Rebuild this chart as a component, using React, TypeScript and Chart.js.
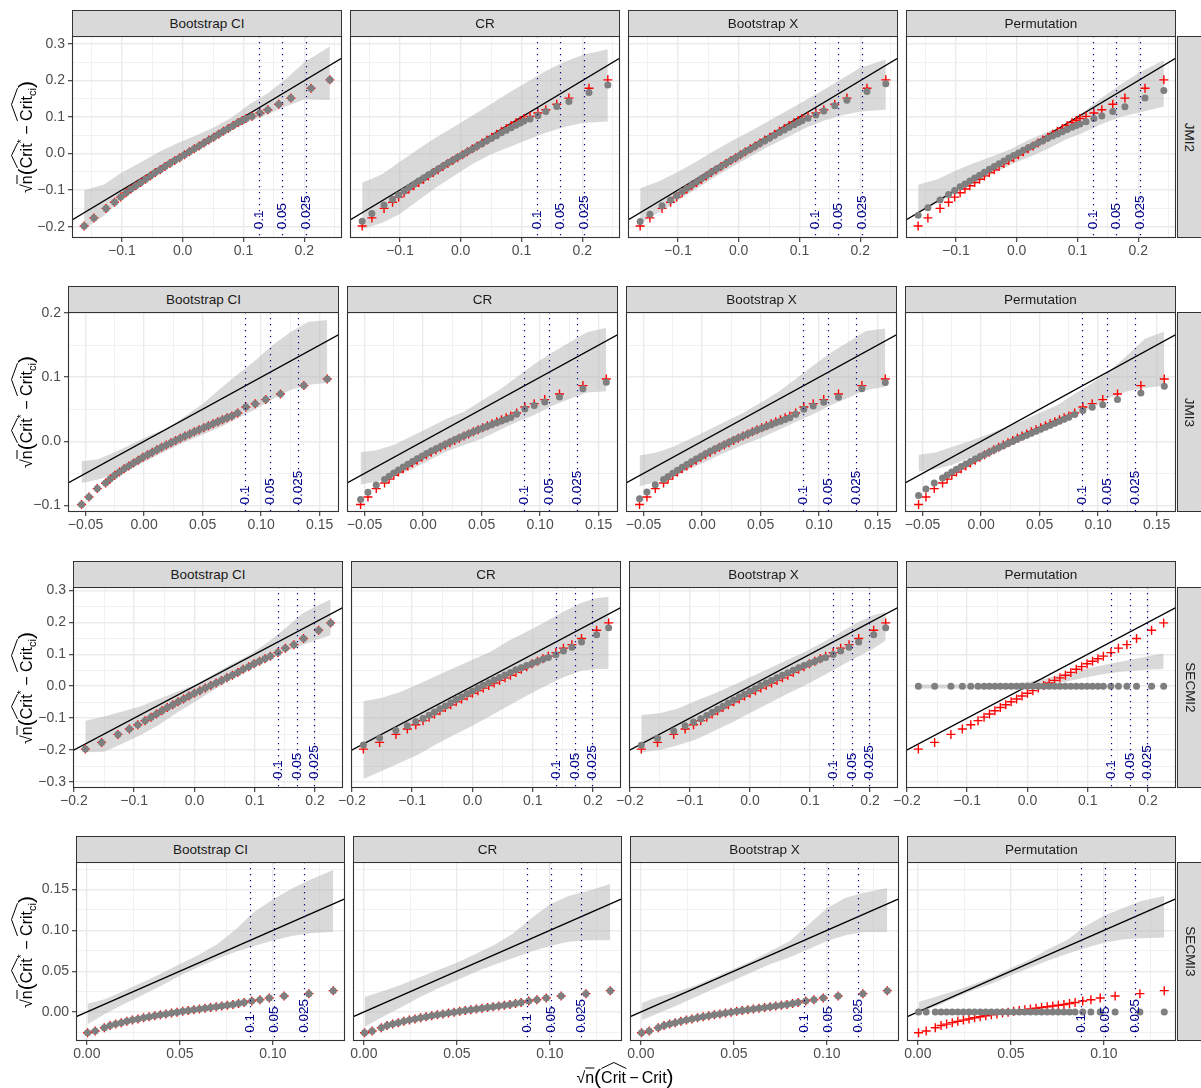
import React, { useEffect, useRef } from "react";
import { Chart, registerables } from "chart.js";

Chart.register(...registerables);

const FONT = "'Liberation Sans', Arial, Helvetica, sans-serif";
Chart.defaults.font.family = FONT;

// ---------------- labels ----------------
const methodNames = ["Bootstrap CI", "CR", "Bootstrap X", "Permutation"];
const rowNames = ["JMI2", "JMI3", "SECMI2", "SECMI3"];
const qLabels = ["0.1", "0.05", "0.025"];
const identityLine = [-1, 1];

// ---------------- JMI2 ----------------
const xJMI2 = [-0.162, -0.146, -0.126, -0.112, -0.102, -0.093, -0.085, -0.077, -0.069, -0.061, -0.053, -0.045, -0.037, -0.029, -0.021, -0.013, -0.005, 0.003, 0.011, 0.019, 0.027, 0.035, 0.043, 0.051, 0.059, 0.067, 0.075, 0.083, 0.091, 0.098, 0.104, 0.114, 0.127, 0.14, 0.158, 0.178, 0.211, 0.242];
const redJMI2 = [-0.198, -0.176, -0.15, -0.133, -0.119, -0.107, -0.097, -0.088, -0.079, -0.07, -0.061, -0.052, -0.044, -0.035, -0.027, -0.019, -0.011, -0.003, 0.005, 0.013, 0.021, 0.029, 0.037, 0.045, 0.053, 0.061, 0.069, 0.077, 0.085, 0.091, 0.096, 0.102, 0.111, 0.12, 0.135, 0.152, 0.179, 0.202];
const grayJMI2CR = [-0.185, -0.164, -0.141, -0.125, -0.113, -0.102, -0.093, -0.084, -0.075, -0.067, -0.058, -0.05, -0.042, -0.034, -0.026, -0.018, -0.01, -0.003, 0.005, 0.012, 0.02, 0.027, 0.035, 0.042, 0.049, 0.057, 0.064, 0.071, 0.078, 0.084, 0.089, 0.095, 0.104, 0.115, 0.129, 0.143, 0.167, 0.188];
const grayJMI2BX = [-0.186, -0.166, -0.143, -0.127, -0.115, -0.104, -0.095, -0.086, -0.077, -0.068, -0.06, -0.051, -0.043, -0.035, -0.027, -0.019, -0.011, -0.003, 0.005, 0.012, 0.02, 0.028, 0.035, 0.043, 0.05, 0.058, 0.065, 0.072, 0.079, 0.085, 0.09, 0.097, 0.106, 0.117, 0.131, 0.146, 0.17, 0.191];
const grayJMI2Perm = [-0.169, -0.148, -0.127, -0.112, -0.101, -0.091, -0.083, -0.075, -0.067, -0.059, -0.051, -0.043, -0.035, -0.028, -0.02, -0.012, -0.005, 0.002, 0.009, 0.016, 0.022, 0.029, 0.035, 0.042, 0.048, 0.054, 0.06, 0.066, 0.072, 0.077, 0.081, 0.087, 0.096, 0.103, 0.115, 0.128, 0.152, 0.173];
const bandXJMI2 = [-0.162, -0.13, -0.1, -0.07, -0.04, -0.01, 0.02, 0.05, 0.08, 0.11, 0.14, 0.17, 0.2, 0.242];
const bandLoJMI2CI = [-0.207, -0.17, -0.125, -0.09, -0.055, -0.022, 0.008, 0.035, 0.063, 0.088, 0.108, 0.13, 0.148, 0.147];
const bandHiJMI2CI = [-0.1, -0.085, -0.052, -0.025, 0.004, 0.028, 0.048, 0.071, 0.098, 0.135, 0.165, 0.205, 0.25, 0.293];
const bandLoJMI2CR = [-0.207, -0.19, -0.165, -0.128, -0.092, -0.06, -0.028, -0.002, 0.018, 0.038, 0.057, 0.073, 0.084, 0.088];
const bandHiJMI2CR = [-0.08, -0.057, -0.022, 0.012, 0.045, 0.074, 0.105, 0.136, 0.167, 0.197, 0.226, 0.251, 0.27, 0.286];
const bandLoJMI2BX = [-0.19, -0.16, -0.128, -0.097, -0.065, -0.035, -0.007, 0.02, 0.045, 0.07, 0.09, 0.105, 0.115, 0.12];
const bandHiJMI2BX = [-0.095, -0.075, -0.05, -0.022, 0.008, 0.036, 0.062, 0.09, 0.118, 0.146, 0.175, 0.205, 0.235, 0.258];
const bandLoJMI2Perm = [-0.162, -0.135, -0.108, -0.082, -0.056, -0.03, -0.01, 0.012, 0.038, 0.058, 0.081, 0.1, 0.112, 0.129];
const bandHiJMI2Perm = [-0.085, -0.07, -0.046, -0.026, -0.007, 0.012, 0.038, 0.059, 0.079, 0.114, 0.153, 0.188, 0.22, 0.256];
const qJMI2 = [0.125, 0.164, 0.202];

// ---------------- JMI3 ----------------
const xJMI3 = [-0.0534, -0.0471, -0.04, -0.0329, -0.029, -0.025, -0.021, -0.017, -0.013, -0.009, -0.005, -0.001, 0.003, 0.007, 0.011, 0.015, 0.019, 0.023, 0.027, 0.031, 0.035, 0.039, 0.043, 0.047, 0.051, 0.055, 0.059, 0.063, 0.067, 0.071, 0.075, 0.08, 0.087, 0.095, 0.104, 0.1166, 0.1366, 0.1566];
const redJMI3 = [-0.0987, -0.0868, -0.0738, -0.065, -0.059, -0.053, -0.048, -0.043, -0.0385, -0.034, -0.0295, -0.025, -0.021, -0.017, -0.0132, -0.0095, -0.0058, -0.0022, 0.0013, 0.0048, 0.0082, 0.0115, 0.0148, 0.018, 0.0212, 0.0243, 0.0274, 0.0305, 0.0335, 0.0365, 0.0395, 0.044, 0.0535, 0.0587, 0.065, 0.0738, 0.0868, 0.0971];
const grayJMI3CR = [-0.091, -0.0795, -0.068, -0.0597, -0.0545, -0.0495, -0.0448, -0.0402, -0.0358, -0.0315, -0.0273, -0.0232, -0.0192, -0.0153, -0.0116, -0.008, -0.0045, -0.0011, 0.0022, 0.0055, 0.0087, 0.0118, 0.0148, 0.0178, 0.0207, 0.0235, 0.0263, 0.029, 0.0317, 0.0343, 0.037, 0.0426, 0.0504, 0.0556, 0.0613, 0.069, 0.082, 0.092];
const grayJMI3BX = [-0.0895, -0.079, -0.0678, -0.0598, -0.0548, -0.0499, -0.0452, -0.0406, -0.0362, -0.0319, -0.0277, -0.0236, -0.0196, -0.0157, -0.012, -0.0084, -0.0049, -0.0015, 0.0018, 0.0051, 0.0083, 0.0114, 0.0144, 0.0174, 0.0203, 0.0231, 0.0259, 0.0287, 0.0314, 0.0341, 0.0368, 0.042, 0.0498, 0.0552, 0.061, 0.0688, 0.0818, 0.0915];
const grayJMI3Perm = [-0.0847, -0.0743, -0.065, -0.0571, -0.0525, -0.048, -0.0437, -0.0395, -0.0355, -0.0316, -0.0278, -0.0241, -0.0205, -0.017, -0.0136, -0.0102, -0.0069, -0.0036, -0.0003, 0.003, 0.0062, 0.0094, 0.0126, 0.0157, 0.0188, 0.0219, 0.025, 0.0281, 0.0312, 0.0343, 0.0374, 0.0416, 0.0478, 0.053, 0.0571, 0.065, 0.0753, 0.0857];
const bandXJMI3 = [-0.0534, -0.04, -0.025, -0.01, 0.005, 0.02, 0.035, 0.05, 0.065, 0.08, 0.095, 0.11, 0.125, 0.14, 0.1566];
const bandLoJMI3CI = [-0.065, -0.06, -0.052, -0.041, -0.028, -0.014, -0.001, 0.01, 0.022, 0.036, 0.05, 0.066, 0.08, 0.088, 0.091];
const bandHiJMI3CI = [-0.031, -0.0286, -0.017, -0.004, 0.0095, 0.02, 0.039, 0.058, 0.082, 0.104, 0.126, 0.15, 0.17, 0.186, 0.189];
const bandLoJMI3CR = [-0.0675, -0.063, -0.055, -0.044, -0.03, -0.016, -0.006, 0.004, 0.017, 0.03, 0.041, 0.055, 0.066, 0.076, 0.078];
const bandHiJMI3CR = [-0.017, -0.014, -0.006, 0.008, 0.021, 0.035, 0.046, 0.063, 0.08, 0.1, 0.12, 0.138, 0.154, 0.17, 0.177];
const bandLoJMI3BX = [-0.07, -0.064, -0.055, -0.043, -0.03, -0.017, -0.006, 0.005, 0.017, 0.03, 0.042, 0.056, 0.068, 0.08, 0.085];
const bandHiJMI3BX = [-0.022, -0.018, -0.009, 0.004, 0.017, 0.031, 0.044, 0.06, 0.077, 0.097, 0.118, 0.138, 0.155, 0.172, 0.176];
const bandLoJMI3Perm = [-0.047, -0.044, -0.037, -0.026, -0.014, -0.002, 0.008, 0.018, 0.029, 0.041, 0.053, 0.068, 0.078, 0.083, 0.087];
const bandHiJMI3Perm = [-0.021, -0.018, -0.009, 0.0, 0.01, 0.021, 0.032, 0.044, 0.056, 0.074, 0.091, 0.11, 0.134, 0.16, 0.171];
const qJMI3 = [0.0863, 0.108, 0.1314];

// ---------------- SECMI2 ----------------
const xSECMI2 = [-0.181, -0.154, -0.127, -0.108, -0.094, -0.082, -0.072, -0.063, -0.054, -0.045, -0.036, -0.027, -0.018, -0.009, 0.0, 0.009, 0.018, 0.027, 0.036, 0.045, 0.054, 0.063, 0.072, 0.081, 0.09, 0.099, 0.108, 0.117, 0.126, 0.1385, 0.151, 0.165, 0.181, 0.206, 0.226];
const redSECMI2 = [-0.197, -0.176, -0.151, -0.134, -0.121, -0.108, -0.097, -0.087, -0.077, -0.067, -0.058, -0.049, -0.04, -0.031, -0.022, -0.014, -0.006, 0.002, 0.01, 0.018, 0.026, 0.034, 0.043, 0.053, 0.061, 0.07, 0.078, 0.086, 0.094, 0.105, 0.119, 0.13, 0.149, 0.175, 0.198];
const graySECMI2CR = [-0.184, -0.162, -0.139, -0.124, -0.111, -0.101, -0.091, -0.081, -0.071, -0.062, -0.052, -0.042, -0.033, -0.024, -0.015, -0.006, 0.003, 0.011, 0.019, 0.027, 0.035, 0.043, 0.051, 0.058, 0.065, 0.071, 0.077, 0.084, 0.09, 0.098, 0.11, 0.122, 0.138, 0.161, 0.183];
const graySECMI2BX = [-0.185, -0.163, -0.14, -0.124, -0.112, -0.102, -0.092, -0.082, -0.072, -0.063, -0.053, -0.043, -0.034, -0.025, -0.016, -0.007, 0.002, 0.01, 0.018, 0.026, 0.034, 0.042, 0.05, 0.058, 0.065, 0.071, 0.077, 0.084, 0.09, 0.099, 0.11, 0.122, 0.138, 0.161, 0.183];
const graySECMI2Perm = [0, 0, 0, 0, 0, 0, 0, 0, 0, 0, 0, 0, 0, 0, 0, 0, 0, 0, 0, 0, 0, 0, 0, 0, 0, 0, 0, 0, 0, 0, 0, 0, 0, 0, 0];
const bandXSECMI2 = [-0.181, -0.15, -0.12, -0.09, -0.06, -0.03, 0.0, 0.03, 0.06, 0.09, 0.12, 0.15, 0.18, 0.205, 0.226];
const bandLoSECMI2CI = [-0.207, -0.205, -0.18, -0.154, -0.122, -0.084, -0.05, -0.014, 0.021, 0.051, 0.08, 0.107, 0.129, 0.147, 0.159];
const bandHiSECMI2CI = [-0.108, -0.095, -0.079, -0.064, -0.041, -0.018, 0.004, 0.035, 0.068, 0.096, 0.135, 0.18, 0.228, 0.253, 0.271];
const bandLoSECMI2CR = [-0.291, -0.265, -0.24, -0.214, -0.182, -0.152, -0.124, -0.093, -0.061, -0.03, 0.0, 0.027, 0.048, 0.054, 0.054];
const bandHiSECMI2CR = [-0.047, -0.036, -0.018, 0.006, 0.032, 0.058, 0.083, 0.108, 0.142, 0.17, 0.2, 0.232, 0.26, 0.275, 0.28];
const bandLoSECMI2BX = [-0.207, -0.2, -0.185, -0.167, -0.14, -0.114, -0.084, -0.055, -0.026, 0.001, 0.031, 0.062, 0.093, 0.117, 0.143];
const bandHiSECMI2BX = [-0.09, -0.085, -0.07, -0.046, -0.024, 0.001, 0.028, 0.054, 0.08, 0.106, 0.136, 0.168, 0.2, 0.222, 0.232];
const bandLoSECMI2Perm = [-0.007, -0.007, -0.007, -0.007, -0.006, -0.005, -0.004, 0.002, 0.012, 0.025, 0.036, 0.044, 0.049, 0.052, 0.054];
const bandHiSECMI2Perm = [0.005, 0.005, 0.005, 0.005, 0.006, 0.008, 0.013, 0.024, 0.037, 0.052, 0.064, 0.075, 0.086, 0.095, 0.102];
const qSECMI2 = [0.139, 0.1695, 0.198];

// ---------------- SECMI3 ----------------
const xSECMI3 = [0.0004, 0.0045, 0.0094, 0.0125, 0.0155, 0.0185, 0.0215, 0.0245, 0.0275, 0.0305, 0.0335, 0.0365, 0.0395, 0.0425, 0.0455, 0.0485, 0.0515, 0.0545, 0.0575, 0.0605, 0.0635, 0.0665, 0.0695, 0.0725, 0.0755, 0.0785, 0.0815, 0.0845, 0.0886, 0.093, 0.098, 0.106, 0.1193, 0.1324];
const redSECMI3 = [-0.0254, -0.0233, -0.0192, -0.0165, -0.0148, -0.013, -0.0114, -0.0099, -0.0085, -0.0071, -0.0058, -0.0046, -0.0034, -0.0023, -0.0012, -0.0002, 0.0008, 0.0018, 0.0028, 0.0037, 0.0046, 0.0055, 0.0064, 0.0073, 0.0083, 0.0093, 0.0104, 0.0116, 0.0135, 0.0151, 0.0172, 0.0196, 0.0225, 0.0262];
const graySECMI3Perm = [0, 0, 0, 0, 0, 0, 0, 0, 0, 0, 0, 0, 0, 0, 0, 0, 0, 0, 0, 0, 0, 0, 0, 0, 0, 0, 0, 0, 0, 0, 0, 0, 0, 0];
const bandXSECMI3 = [0.0004, 0.01, 0.02, 0.03, 0.04, 0.05, 0.06, 0.07, 0.08, 0.09, 0.1, 0.11, 0.12, 0.1324];
const bandLoSECMI3CI = [-0.0151, -0.002, 0.0098, 0.021, 0.0323, 0.0443, 0.0552, 0.065, 0.0738, 0.081, 0.0875, 0.093, 0.0965, 0.0982];
const bandHiSECMI3CI = [0.0102, 0.016, 0.0262, 0.0364, 0.0472, 0.0588, 0.07, 0.083, 0.101, 0.123, 0.138, 0.151, 0.162, 0.174];
const bandLoSECMI3CR = [-0.0184, -0.006, 0.006, 0.018, 0.029, 0.039, 0.049, 0.058, 0.066, 0.074, 0.081, 0.086, 0.088, 0.088];
const bandHiSECMI3CR = [0.0184, 0.0255, 0.0335, 0.0425, 0.0515, 0.0605, 0.071, 0.082, 0.096, 0.115, 0.132, 0.142, 0.148, 0.157];
const bandLoSECMI3BX = [-0.0102, -0.001, 0.0085, 0.019, 0.029, 0.039, 0.049, 0.059, 0.067, 0.077, 0.087, 0.094, 0.098, 0.098];
const bandHiSECMI3BX = [0.011, 0.019, 0.025, 0.033, 0.043, 0.053, 0.063, 0.075, 0.087, 0.107, 0.127, 0.14, 0.146, 0.152];
const bandLoSECMI3Perm = [0.0, 0.007, 0.0175, 0.027, 0.035, 0.045, 0.054, 0.063, 0.071, 0.0785, 0.085, 0.089, 0.0905, 0.0912];
const bandHiSECMI3Perm = [0.0123, 0.019, 0.026, 0.034, 0.043, 0.054, 0.064, 0.077, 0.088, 0.105, 0.118, 0.127, 0.136, 0.142];
const qSECMI3 = [0.0875, 0.1008, 0.1168];

// ---------------- axis ticks ----------------
const xMajJMI2 = [-0.1, 0, 0.1, 0.2];
const xLabJMI2 = ["\u22120.1", "0.0", "0.1", "0.2"];
const xMinJMI2 = [-0.15, -0.05, 0.05, 0.15, 0.25];
const yMajJMI2 = [-0.2, -0.1, 0, 0.1, 0.2, 0.3];
const yLabJMI2 = ["\u22120.2", "\u22120.1", "0.0", "0.1", "0.2", "0.3"];
const yMinJMI2 = [-0.15, -0.05, 0.05, 0.15, 0.25];

const xMajJMI3 = [-0.05, 0, 0.05, 0.1, 0.15];
const xLabJMI3 = ["\u22120.05", "0.00", "0.05", "0.10", "0.15"];
const xMinJMI3 = [-0.025, 0.025, 0.075, 0.125];
const yMajJMI3 = [-0.1, 0, 0.1, 0.2];
const yLabJMI3 = ["\u22120.1", "0.0", "0.1", "0.2"];
const yMinJMI3 = [-0.05, 0.05, 0.15];

const xMajSECMI2 = [-0.2, -0.1, 0, 0.1, 0.2];
const xLabSECMI2 = ["\u22120.2", "\u22120.1", "0.0", "0.1", "0.2"];
const xMinSECMI2 = [-0.15, -0.05, 0.05, 0.15];
const yMajSECMI2 = [-0.3, -0.2, -0.1, 0, 0.1, 0.2, 0.3];
const yLabSECMI2 = ["\u22120.3", "\u22120.2", "\u22120.1", "0.0", "0.1", "0.2", "0.3"];
const yMinSECMI2 = [-0.25, -0.15, -0.05, 0.05, 0.15, 0.25];

const xMajSECMI3 = [0, 0.05, 0.1];
const xLabSECMI3 = ["0.00", "0.05", "0.10"];
const xMinSECMI3 = [0.025, 0.075, 0.125];
const yMajSECMI3 = [0, 0.05, 0.1, 0.15];
const yLabSECMI3 = ["0.00", "0.05", "0.10", "0.15"];
const yMinSECMI3 = [-0.025, 0.025, 0.075, 0.125, 0.175];

// ---------------- row specs ----------------
const ROWS: any[] = [
  {
    name: rowNames[0], x: xJMI2, red: redJMI2,
    gray: [redJMI2, grayJMI2CR, grayJMI2BX, grayJMI2Perm],
    bandX: bandXJMI2,
    bandLo: [bandLoJMI2CI, bandLoJMI2CR, bandLoJMI2BX, bandLoJMI2Perm],
    bandHi: [bandHiJMI2CI, bandHiJMI2CR, bandHiJMI2BX, bandHiJMI2Perm],
    xLim: [-0.182, 0.262], yLim: [-0.231, 0.322],
    xMaj: xMajJMI2, xLab: xLabJMI2, xMin: xMinJMI2,
    yMaj: yMajJMI2, yLab: yLabJMI2, yMin: yMinJMI2,
    q: qJMI2, labelY: -0.207,
    top: 36, bottom: 238, left: 72,
  },
  {
    name: rowNames[1], x: xJMI3, red: redJMI3,
    gray: [redJMI3, grayJMI3CR, grayJMI3BX, grayJMI3Perm],
    bandX: bandXJMI3,
    bandLo: [bandLoJMI3CI, bandLoJMI3CR, bandLoJMI3BX, bandLoJMI3Perm],
    bandHi: [bandHiJMI3CI, bandHiJMI3CR, bandHiJMI3BX, bandHiJMI3Perm],
    xLim: [-0.065, 0.1666], yLim: [-0.1103, 0.2016],
    xMaj: xMajJMI3, xLab: xLabJMI3, xMin: xMinJMI3,
    yMaj: yMajJMI3, yLab: yLabJMI3, yMin: yMinJMI3,
    q: qJMI3, labelY: -0.0987,
    top: 312, bottom: 512, left: 68,
  },
  {
    name: rowNames[2], x: xSECMI2, red: redSECMI2,
    gray: [redSECMI2, graySECMI2CR, graySECMI2BX, graySECMI2Perm],
    bandX: bandXSECMI2,
    bandLo: [bandLoSECMI2CI, bandLoSECMI2CR, bandLoSECMI2BX, bandLoSECMI2Perm],
    bandHi: [bandHiSECMI2CI, bandHiSECMI2CR, bandHiSECMI2BX, bandHiSECMI2Perm],
    xLim: [-0.2015, 0.2465], yLim: [-0.3188, 0.3104],
    xMaj: xMajSECMI2, xLab: xLabSECMI2, xMin: xMinSECMI2,
    yMaj: yMajSECMI2, yLab: yLabSECMI2, yMin: yMinSECMI2,
    q: qSECMI2, labelY: -0.291,
    top: 587, bottom: 788, left: 73,
  },
  {
    name: rowNames[3], x: xSECMI3, red: redSECMI3,
    gray: [redSECMI3, redSECMI3, redSECMI3, graySECMI3Perm],
    bandX: bandXSECMI3,
    bandLo: [bandLoSECMI3CI, bandLoSECMI3CR, bandLoSECMI3BX, bandLoSECMI3Perm],
    bandHi: [bandHiSECMI3CI, bandHiSECMI3CR, bandHiSECMI3BX, bandHiSECMI3Perm],
    xLim: [-0.0058, 0.1387], yLim: [-0.0355, 0.1838],
    xMaj: xMajSECMI3, xLab: xLabSECMI3, xMin: xMinSECMI3,
    yMaj: yMajSECMI3, yLab: yLabSECMI3, yMin: yMinSECMI3,
    q: qSECMI3, labelY: -0.0254,
    top: 862, bottom: 1041, left: 76,
  },
];

// ---------------- layout ----------------
const AXIS_W = 70;
const AXIS_H = 26;
const PAD_T = 14;
const PAD_R = 6;
const GAP = 8;
const PLOT_RIGHT = 1176;
const STRIP_H = 27;

const near = (arr: number[], v: number) => arr.findIndex((m) => Math.abs(m - v) < 1e-9);
const pts = (xs: number[], ys: number[]) => xs.map((x, i) => ({ x, y: ys[i] }));

function colBox(row: any, col: number) {
  const w = (PLOT_RIGHT - row.left - 3 * GAP) / 4;
  const l = Math.round(row.left + col * (w + GAP));
  const r = Math.round(row.left + col * (w + GAP) + w);
  return { l, r };
}

const decorPlugin = {
  id: "decor",
  afterDatasetsDraw(chart: any, _args: any, opts: any) {
    const { ctx, chartArea: a, scales } = chart;
    const xs = scales.x;
    const ys = scales.y;
    ctx.save();
    ctx.beginPath();
    ctx.rect(a.left, a.top, a.right - a.left, a.bottom - a.top);
    ctx.clip();
    ctx.strokeStyle = "#00008B";
    ctx.lineWidth = 1.2;
    ctx.setLineDash([1.3, 4.7]);
    opts.lines.forEach((q: number) => {
      const px = Math.round(xs.getPixelForValue(q)) + 0.5;
      ctx.beginPath();
      ctx.moveTo(px, a.top);
      ctx.lineTo(px, a.bottom);
      ctx.stroke();
    });
    ctx.setLineDash([]);
    ctx.fillStyle = "#00008B";
    ctx.font = `13.5px ${FONT}`;
    ctx.textAlign = "left";
    ctx.textBaseline = "middle";
    opts.lines.forEach((q: number, i: number) => {
      const px = Math.round(xs.getPixelForValue(q)) + 0.5;
      const py = ys.getPixelForValue(opts.labelY);
      ctx.save();
      ctx.translate(px, py);
      ctx.rotate(-Math.PI / 2);
      ctx.fillText(opts.labels[i], 0, 0);
      ctx.restore();
    });
    ctx.restore();
    ctx.save();
    ctx.strokeStyle = "#333333";
    ctx.lineWidth = 1.1;
    ctx.strokeRect(a.left + 0.5, a.top + 0.5, a.right - a.left - 1, a.bottom - a.top - 1);
    ctx.restore();
  },
};

function axisCfg(major: number[], minor: number[], labels: string[], lim: number[], isX: boolean, showLabels: boolean) {
  const isMaj = (c: any) => c.tick && near(major, c.tick.value) >= 0;
  return {
    type: "linear",
    position: isX ? "bottom" : "left",
    min: lim[0],
    max: lim[1],
    afterBuildTicks: (s: any) => {
      s.ticks = [...major, ...minor].sort((p, q) => p - q).map((v) => ({ value: v }));
    },
    afterFit: (s: any) => {
      if (isX) {
        s.height = AXIS_H;
        s.paddingLeft = 0;
        s.paddingRight = 0;
      } else {
        s.width = AXIS_W;
        s.paddingTop = 0;
        s.paddingBottom = 0;
      }
    },
    ticks: {
      display: showLabels,
      autoSkip: false,
      maxRotation: 0,
      minRotation: 0,
      padding: isX ? 1 : 3,
      color: "#4D4D4D",
      font: { size: 14, family: FONT },
      callback: (v: number) => {
        const i = near(major, v);
        return i >= 0 ? labels[i] : "";
      },
    },
    grid: {
      drawOnChartArea: true,
      drawTicks: showLabels,
      tickLength: 4,
      tickWidth: 1.1,
      color: "#EBEBEB",
      lineWidth: (c: any) => (isMaj(c) ? 1.4 : 0.7),
      tickColor: (c: any) => (isMaj(c) ? "#333333" : "rgba(0,0,0,0)"),
    },
    border: { display: false },
  };
}

function Panel({ row, col }: { row: any; col: number }) {
  const ref = useRef<HTMLCanvasElement>(null);
  const { l, r } = colBox(row, col);
  const cl = l - AXIS_W;
  const ct = row.top - PAD_T;
  const cw = r - l + AXIS_W + PAD_R;
  const ch = row.bottom - row.top + PAD_T + AXIS_H;

  useEffect(() => {
    const canvas = ref.current;
    if (!canvas) return;
    const datasets: any[] = [
      {
        type: "line",
        data: pts(row.bandX, row.bandLo[col]),
        borderColor: "rgba(0,0,0,0)",
        borderWidth: 0,
        pointRadius: 0,
        fill: false,
        order: 10,
      },
      {
        type: "line",
        data: pts(row.bandX, row.bandHi[col]),
        borderColor: "rgba(0,0,0,0)",
        borderWidth: 0,
        pointRadius: 0,
        fill: 0,
        backgroundColor: "rgba(179,179,179,0.5)",
        order: 9,
      },
      {
        type: "line",
        data: identityLine.map((v) => ({ x: v, y: v })),
        borderColor: "#000000",
        borderWidth: 1.3,
        pointRadius: 0,
        fill: false,
        order: 8,
      },
      {
        type: "scatter",
        data: pts(row.x, row.red),
        pointStyle: "cross",
        pointRadius: 4.5,
        pointBorderWidth: 1.4,
        pointBorderColor: "#FF0000",
        borderColor: "#FF0000",
        backgroundColor: "#FF0000",
        order: 2,
      },
      {
        type: "scatter",
        data: pts(row.x, row.gray[col]),
        pointStyle: "circle",
        pointRadius: 3.5,
        pointBorderWidth: 0,
        pointBorderColor: "rgba(0,0,0,0)",
        pointBackgroundColor: "#7F7F7F",
        backgroundColor: "#7F7F7F",
        borderColor: "rgba(0,0,0,0)",
        order: 1,
      },
    ];
    const chart = new Chart(canvas, {
      type: "scatter",
      data: { datasets },
      options: {
        responsive: false,
        animation: false,
        events: [],
        layout: { padding: { left: 0, right: PAD_R, top: PAD_T, bottom: 0 }, autoPadding: false },
        plugins: {
          legend: { display: false },
          tooltip: { enabled: false },
          decor: { lines: row.q, labels: qLabels, labelY: row.labelY },
        },
        scales: {
          x: axisCfg(row.xMaj, row.xMin, row.xLab, row.xLim, true, true),
          y: axisCfg(row.yMaj, row.yMin, row.yLab, row.yLim, false, col === 0),
        },
      } as any,
      plugins: [decorPlugin as any],
    } as any);
    return () => chart.destroy();
  }, []);

  return (
    <canvas
      ref={ref}
      width={cw}
      height={ch}
      style={{ position: "absolute", left: cl, top: ct, width: cw, height: ch }}
    />
  );
}

const Hat = ({ children }: { children: any }) => (
  <span style={{ position: "relative", display: "inline-block" }}>
    <svg
      viewBox="0 0 100 10"
      preserveAspectRatio="none"
      style={{ position: "absolute", left: 0, top: -4, width: "100%", height: 6, overflow: "visible" }}
    >
      <polyline points="0,10 50,0 100,10" fill="none" stroke="#000" strokeWidth={1} vectorEffect="non-scaling-stroke" />
    </svg>
    {children}
  </span>
);

const parenStyle = { fontSize: 21, verticalAlign: "-1px" };

function YTitle({ cx, cy }: { cx: number; cy: number }) {
  return (
    <div
      style={{
        position: "absolute",
        left: cx,
        top: cy,
        transform: "translate(-50%, -50%) rotate(-90deg)",
        whiteSpace: "nowrap",
        fontFamily: FONT,
        fontSize: 16,
        lineHeight: "22px",
        color: "#000",
      }}
    >
      <span>√</span>
      <span style={{ borderTop: "1px solid #000" }}>n</span>
      <span style={parenStyle}>(</span>
      <Hat>Crit</Hat>
      <span style={{ fontSize: 11, verticalAlign: "7px" }}>*</span>
      <span>{" \u2212 "}</span>
      <Hat>
        Crit<span style={{ fontSize: 11, verticalAlign: "-4px" }}>ci</span>
      </Hat>
      <span style={parenStyle}>)</span>
    </div>
  );
}

function XTitle({ cx, cy }: { cx: number; cy: number }) {
  return (
    <div
      style={{
        position: "absolute",
        left: cx,
        top: cy,
        transform: "translate(-50%, -50%)",
        whiteSpace: "nowrap",
        fontFamily: FONT,
        fontSize: 16,
        lineHeight: "22px",
        color: "#000",
      }}
    >
      <span>√</span>
      <span style={{ borderTop: "1px solid #000" }}>n</span>
      <span style={parenStyle}>(</span>
      <Hat>Crit</Hat>
      <span>{"\u2009\u2212\u2009"}</span>
      <span>Crit</span>
      <span style={parenStyle}>)</span>
    </div>
  );
}

export default function App() {
  return (
    <div
      style={{
        position: "fixed",
        left: 0,
        top: 0,
        width: 1201,
        height: 1088,
        overflow: "hidden",
        background: "#FFFFFF",
      }}
    >
      {ROWS.map((row, ri) =>
        [0, 1, 2, 3].map((c) => <Panel key={`p${ri}-${c}`} row={row} col={c} />)
      )}
      {ROWS.map((row, ri) =>
        [0, 1, 2, 3].map((c) => {
          const { l, r } = colBox(row, c);
          return (
            <div
              key={`s${ri}-${c}`}
              style={{
                position: "absolute",
                left: l,
                top: row.top - STRIP_H + 1,
                width: r - l,
                height: STRIP_H,
                background: "#D9D9D9",
                border: "1px solid #333333",
                boxSizing: "border-box",
                display: "flex",
                alignItems: "center",
                justifyContent: "center",
                fontFamily: FONT,
                fontSize: 13.5,
                color: "#1A1A1A",
              }}
            >
              {methodNames[c]}
            </div>
          );
        })
      )}
      {ROWS.map((row, ri) => (
        <div
          key={`r${ri}`}
          style={{
            position: "absolute",
            left: PLOT_RIGHT + 1,
            top: row.top,
            width: 30,
            height: row.bottom - row.top,
            background: "#D9D9D9",
            border: "1px solid #333333",
            boxSizing: "border-box",
            display: "flex",
            alignItems: "center",
            justifyContent: "center",
            fontFamily: FONT,
            fontSize: 13.5,
            color: "#1A1A1A",
          }}
        >
          <div style={{ transform: "rotate(90deg)", whiteSpace: "nowrap", marginRight: 4 }}>{row.name}</div>
        </div>
      ))}
      {ROWS.map((row, ri) => (
        <YTitle key={`y${ri}`} cx={26} cy={(row.top + row.bottom) / 2} />
      ))}
      <XTitle cx={625} cy={1077} />
    </div>
  );
}
